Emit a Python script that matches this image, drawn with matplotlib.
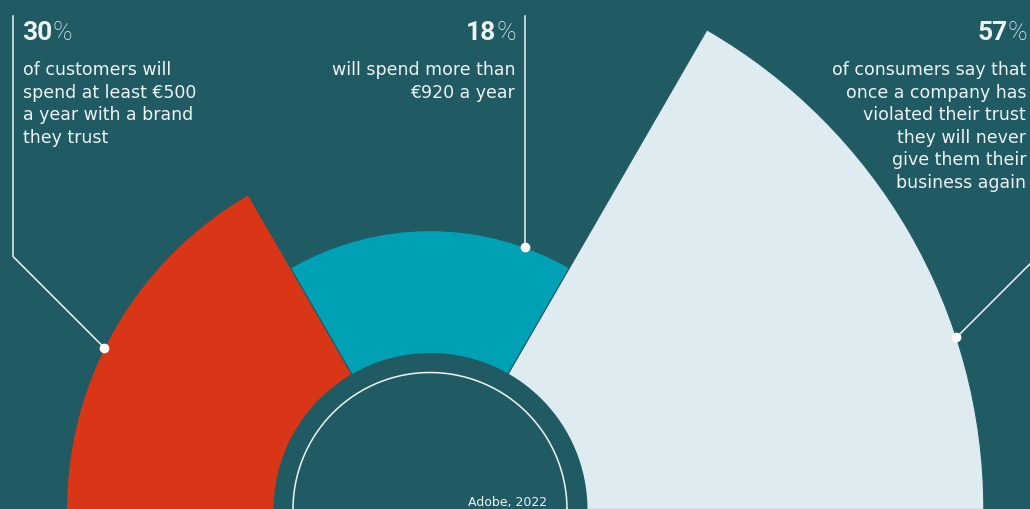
import numpy as np
import matplotlib
matplotlib.use("Agg")
import matplotlib.pyplot as plt

# Survey figures (percent of respondents)
shares = [30, 18, 57]
captions = [
    "of customers will\nspend at least €500\na year with a brand\nthey trust",
    "will spend more than\n€920 a year",
    "of consumers say that\nonce a company has\nviolated their trust\nthey will never\ngive them their\nbusiness again",
]
source = "Adobe, 2022"

BG = "#205a63"
FG = "#eef3f4"
colors = ["#d83616", "#00a1b5", "#deecf1"]

W, H = 1030, 510
CX, CY = 430, 510.5        # hub centre in pixels (y measured from top)
R_AX = 570                 # radius of the polar axes in pixels
R_BASE = 152               # zero line of the radial scale
R_HUB = 157                # dark hub covering the bar roots
R_RING = 137               # thin white ring inside the hub
PX_PER_PCT = 7.05

plt.rcParams["font.family"] = ["DejaVu Sans"]

fig = plt.figure(figsize=(W / 100, H / 100), dpi=100, facecolor=BG)

# --- rose bars on a polar axes whose data radius equals pixels ------------
pax = fig.add_axes([(CX - R_AX) / W, (H - CY - R_AX) / H, 2 * R_AX / W, 2 * R_AX / H],
                   projection="polar")
pax.set_ylim(0, R_AX)
pax.set_axis_off()
pax.patch.set_visible(False)

n = len(shares)
width = np.pi / n
thetas = np.pi - width / 2 - width * np.arange(n)
heights = np.array(shares) * PX_PER_PCT
pax.bar(thetas, heights, width=width, bottom=R_BASE, color=colors,
        edgecolor=BG, linewidth=0.8, align="center")

ring = np.linspace(0, 2 * np.pi, 400)
pax.fill_between(ring, 0, R_HUB, color=BG, lw=0, zorder=3)
pax.plot(ring, np.full_like(ring, R_RING), color=FG, lw=1.1, zorder=4)

# --- overlay in pixel coordinates for labels and leader lines -------------
ax = fig.add_axes([0, 0, 1, 1])
ax.set_xlim(0, W)
ax.set_ylim(H, 0)
ax.set_axis_off()
ax.patch.set_visible(False)


def to_px(theta_deg, r):
    disp = pax.transData.transform((np.deg2rad(theta_deg), r))
    return ax.transData.inverted().transform(disp)


dot_angles = [153.6, 70.0, 18.1]
dots = [to_px(a, R_BASE + h) for a, h in zip(dot_angles, heights)]
TOP = 17

# leader lines: 45-degree runs, then vertical up to the headline
x0, y0 = dots[0]
ax.plot([x0, 13, 13], [y0, y0 - (x0 - 13), TOP], color=FG, lw=1.1)
x1, y1 = dots[1]
ax.plot([x1, x1], [y1, TOP], color=FG, lw=1.1)
x2, y2 = dots[2]
ax.plot([x2, W + 5], [y2, y2 - (W + 5 - x2)], color=FG, lw=1.1)
for x, y in dots:
    ax.plot(x, y, "o", color="white", ms=6, zorder=5)


def headline(x, value, align):
    num_kw = dict(fontsize=19, color=FG, family="Roboto", fontweight="bold")
    pct_kw = dict(fontsize=19, color=FG, family="Roboto", fontweight="light")
    if align == "left":
        num = ax.text(x, 40, f"{value}", ha="left", va="baseline", **num_kw)
        ax.annotate("%", xy=(1, 0), xycoords=num, ha="left", va="bottom", **pct_kw)
    else:
        pct = ax.text(x, 40, "%", ha="right", va="baseline", **pct_kw)
        ax.annotate(f"{value}", xy=(0, 0), xycoords=pct, ha="right", va="bottom", **num_kw)


body = dict(fontsize=12.5, color=FG, va="top", linespacing=1.33)
headline(22, shares[0], "left")
ax.text(23, 61, captions[0], ha="left", **body)
headline(516, shares[1], "right")
ax.text(515, 61, captions[1], ha="right", multialignment="right", **body)
headline(1027, shares[2], "right")
ax.text(1026, 61, captions[2], ha="right", multialignment="right", **body)

ax.text(547, 506, source, ha="right", va="baseline", fontsize=9, color=FG)

fig.savefig("out.png", dpi=100, facecolor=BG)
